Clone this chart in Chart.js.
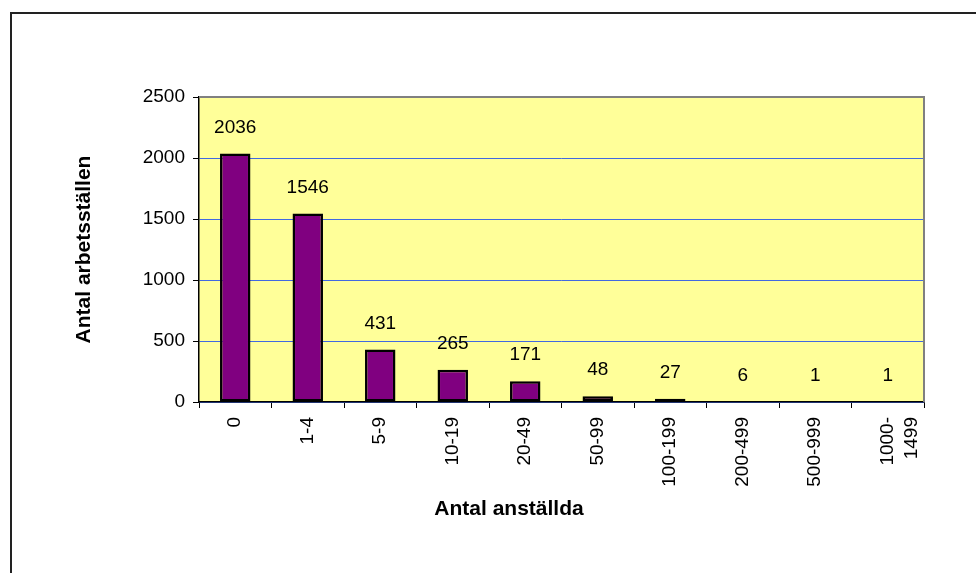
<!DOCTYPE html>
<html>
<head>
<meta charset="utf-8">
<script src="https://cdn.jsdelivr.net/npm/chart.js@4.4.0/dist/chart.umd.min.js"></script>
<style>
  html, body { margin: 0; padding: 0; background: #fff; }
  #wrap { width: 976px; height: 573px; }
</style>
</head>
<body>
<div id="wrap"><canvas id="myChart" width="976" height="573"></canvas></div>
<script>
// data
var categories = ['0', '1-4', '5-9', '10-19', '20-49', '50-99', '100-199', '200-499', '500-999', ['1000-', '1499']];
var antal = [2036, 1546, 431, 265, 171, 48, 27, 6, 1, 1];
var yTicks = [0, 500, 1000, 1500, 2000, 2500];
var yTitle = 'Antal arbetsställen';
var xTitle = 'Antal anställda';

var font = 'Arial, "Liberation Sans", sans-serif';

// yellow plot area, gray border, outer frame, value labels, x title
var excelLook = {
  id: 'excelLook',
  beforeDraw: function(chart) {
    var c = chart.ctx, a = chart.chartArea;
    c.save();
    c.fillStyle = '#fff';
    c.fillRect(0, 0, chart.width, chart.height);
    c.fillStyle = '#FFFF99';
    c.fillRect(a.left, a.top, a.right - a.left, a.bottom - a.top);
    // frame round the whole chart
    c.strokeStyle = '#222';
    c.lineWidth = 2;
    c.beginPath();
    c.moveTo(11, chart.height);
    c.lineTo(11, 13);
    c.lineTo(chart.width, 13);
    c.stroke();
    c.restore();
  },
  afterDraw: function(chart) {
    var c = chart.ctx, a = chart.chartArea;
    c.save();
    c.strokeStyle = '#808080';
    c.lineWidth = 2;
    c.beginPath();
    c.moveTo(a.left, a.top);
    c.lineTo(a.right, a.top);
    c.lineTo(a.right, a.bottom);
    c.stroke();

    c.fillStyle = '#000';
    c.font = '19px ' + font;
    c.textAlign = 'center';
    c.textBaseline = 'middle';
    var meta = chart.getDatasetMeta(0);
    meta.data.forEach(function(bar, i) {
      c.fillText(String(antal[i]), bar.x, bar.y - 26);
    });

    c.font = 'bold 21px ' + font;
    c.fillText(xTitle, 509, 509);
    c.restore();
  }
};

var ctx = document.getElementById('myChart').getContext('2d');
var chart = new Chart(ctx, {
  type: 'bar',
  data: {
    labels: categories,
    datasets: [{
      label: yTitle,
      data: antal,
      backgroundColor: '#800080',
      borderColor: '#000',
      borderWidth: 2.5,
      borderSkipped: false,
      barPercentage: 0.42,
      categoryPercentage: 1
    }]
  },
  options: {
    responsive: false,
    animation: false,
    layout: { padding: { top: 97, right: 52, left: 0, bottom: 0 } },
    plugins: {
      legend: { display: false },
      tooltip: { enabled: false }
    },
    scales: {
      x: {
        afterFit: function(s) { s.height = 171; },
        grid: {
          offset: true,
          drawOnChartArea: false,
          drawTicks: true,
          tickLength: 6,
          color: '#000',
          tickColor: '#000'
        },
        border: { color: '#000', width: 1.5 },
        ticks: {
          minRotation: 90,
          maxRotation: 90,
          autoSkip: false,
          padding: 9,
          color: '#000',
          font: { family: font, size: 19, lineHeight: 1.25 }
        }
      },
      y: {
        min: 0,
        max: 2500,
        afterFit: function(s) { s.width = 199; },
        afterBuildTicks: function(s) {
          s.ticks = yTicks.map(function(v) { return { value: v }; });
        },
        grid: {
          color: '#4169E1',
          lineWidth: 1,
          drawTicks: true,
          tickLength: 6,
          tickColor: '#000'
        },
        border: { color: '#000', width: 1.5 },
        ticks: {
          padding: 8,
          color: '#000',
          font: { family: font, size: 19 },
          callback: function(v) { return String(v); }
        },
        title: {
          display: true,
          text: yTitle,
          color: '#000',
          font: { family: font, size: 21, weight: 'bold' },
          padding: { top: 72, bottom: 0 }
        }
      }
    }
  },
  plugins: [excelLook]
});
</script>
</body>
</html>
